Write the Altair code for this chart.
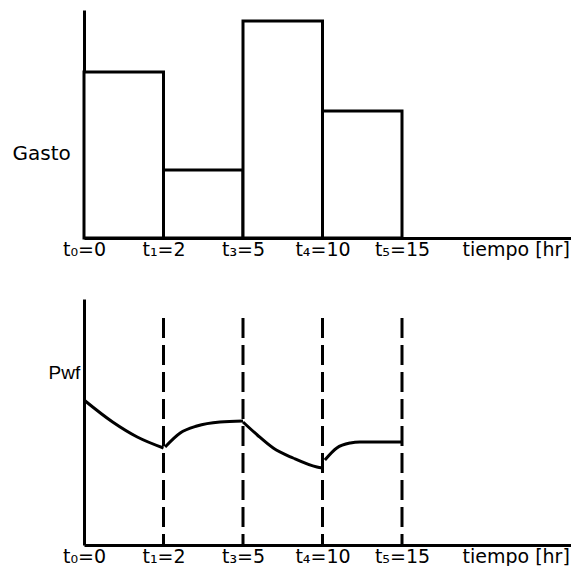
import json
import altair as alt
import pandas as pd

# ---- data ----
slots = [0, 1, 2, 3, 4]                       # equally spaced time marks
slot_labels = ["t₀=0", "t₁=2", "t₃=5", "t₄=10", "t₅=15"]
x_title_pos = 5.43
x_title_text = "tiempo [hr]"

gasto = [166, 68, 217, 127]                   # rate per interval (arbitrary units)

dash_slots = [1, 2, 3, 4]
dash_top = 227

seg = [1, 1, 1, 1,
       2, 2, 2, 2, 2,
       3, 3, 3, 3, 3, 3,
       4, 4, 4, 4, 4]
seg_x = [0.0, 0.36, 0.67, 1.0,
         1.02, 1.21, 1.42, 1.71, 2.0,
         2.0, 2.18, 2.38, 2.63, 2.93, 3.0,
         3.03, 3.18, 3.35, 3.47, 4.0]
seg_pwf = [145, 123, 108, 97,
           98, 112, 119, 123, 124,
           123, 110, 97, 87, 78, 77,
           85, 97, 102, 103, 103]

PLOT_W = 487
X_MAX = PLOT_W / 79.5
TOP_MAX = 228
BOT_MAX = 246
TOP_H = 228
BOT_H = 246

label_expr = (f"datum.value > 4.5 ? '{x_title_text}' : "
              f"{json.dumps(slot_labels, ensure_ascii=False)}[datum.value]")

xscale = alt.Scale(domain=[0, X_MAX], nice=False, zero=False)
xaxis = alt.Axis(values=slots + [x_title_pos], labelExpr=label_expr, title=None,
                 ticks=False, grid=False, domainWidth=3, domainColor="black",
                 labelFont="DejaVu Sans", labelFontSize=19, labelColor="black",
                 labelPadding=2, labelBaseline="top", labelOverlap=False,
                 labelFlush=False, labelBound=False)


def yaxis(title, tx, ty, font, size):
    return alt.Axis(title=title, titleAngle=0, titleX=tx, titleY=ty,
                    titleAlign="left", titleBaseline="alphabetic",
                    titleFont=font, titleFontSize=size, titleFontWeight="normal",
                    titleColor="black", labels=False, ticks=False, grid=False,
                    domainWidth=3, domainColor="black")


# ---- top panel ----
bars = pd.DataFrame({
    "x0": slots[:-1],
    "x1": slots[1:],
    "gasto": gasto,
    "base": [0] * len(gasto),
})
top = alt.Chart(bars).mark_rect(fill="white", stroke="black", strokeWidth=3).encode(
    x=alt.X("x0:Q", scale=xscale, axis=xaxis),
    x2="x1:Q",
    y=alt.Y("gasto:Q", scale=alt.Scale(domain=[0, TOP_MAX], nice=False),
            axis=yaxis("Gasto", -72, 149, "DejaVu Sans", 20)),
    y2="base:Q",
).properties(width=PLOT_W, height=TOP_H)

# ---- bottom panel ----
ybot_scale = alt.Scale(domain=[0, BOT_MAX], nice=False)
ybot_axis = yaxis("Pwf", -36, 79, "Liberation Sans", 19)

dashes = pd.DataFrame({"slot": dash_slots, "top": [dash_top] * len(dash_slots),
                       "base": [0] * len(dash_slots)})
rules = alt.Chart(dashes).mark_rule(color="black", strokeWidth=3, strokeDash=[20, 7]).encode(
    x=alt.X("slot:Q", scale=xscale, axis=xaxis),
    y=alt.Y("top:Q", scale=ybot_scale, axis=ybot_axis),
    y2="base:Q",
)

curve = pd.DataFrame({"seg": seg, "t": seg_x, "pwf": seg_pwf})
lines = alt.Chart(curve).mark_line(color="black", strokeWidth=3, interpolate="monotone").encode(
    x=alt.X("t:Q", scale=xscale, axis=xaxis),
    y=alt.Y("pwf:Q", scale=ybot_scale, axis=ybot_axis),
    detail="seg:N",
)

bottom = alt.layer(rules, lines).properties(width=PLOT_W, height=BOT_H)

chart = alt.vconcat(top, bottom, spacing=61, bounds="flush").properties(
    padding={"left": 4, "top": 2, "right": 0, "bottom": 0}
).configure_view(stroke=None)

chart.save("out.html", embed_options={"renderer": "svg", "actions": False})
